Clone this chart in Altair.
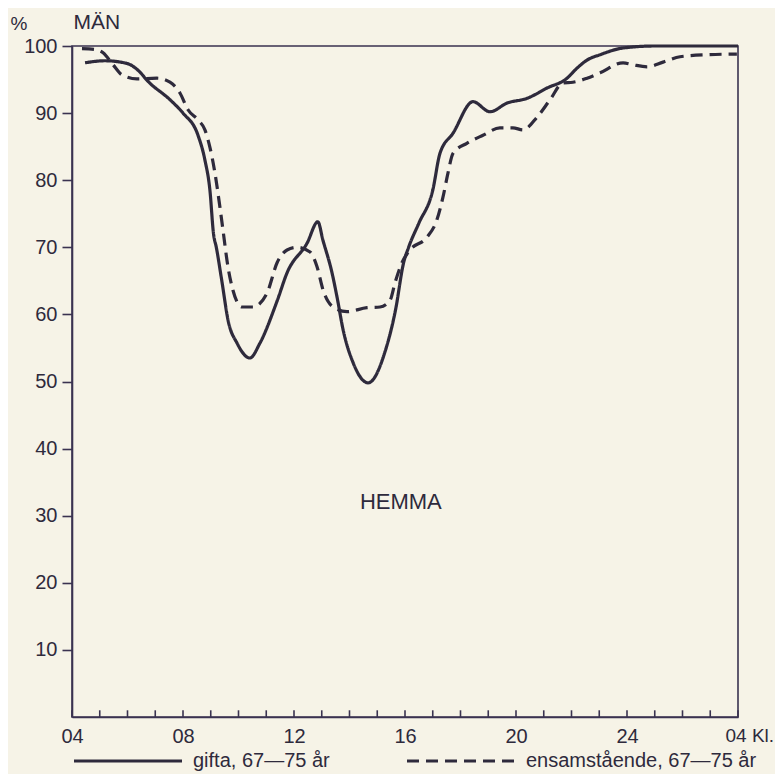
import altair as alt
import pandas as pd

# gifta, 67-75 år (solid)
gifta_h = [4.47, 5.19, 5.98, 6.45, 6.7, 7.53, 8.0, 8.54, 8.79, 8.97, 9.1, 9.2, 9.41, 9.62, 9.95, 10.41,
           10.77, 11.4, 11.75, 12.47, 12.86, 13.04, 13.37, 13.55, 13.77, 14.13, 14.67, 15.3, 15.66, 15.95,
           16.13, 16.5, 17.0, 17.26, 17.73, 18.45, 19.06, 19.68, 20.4, 21.1, 21.84, 22.2, 22.56, 23.03,
           23.86, 25.0, 28.0]
gifta_v = [97.5, 97.8, 97.4, 96.1, 94.9, 92.0, 90.0, 86.7, 83.0, 78.5, 72.0, 70.0, 64.7, 59.2, 55.7, 53.5,
           55.7, 62.1, 66.2, 70.6, 73.8, 71.1, 66.2, 62.6, 57.7, 52.8, 49.8, 54.7, 60.7, 67.7,
           70.0, 73.6, 78.5, 84.0, 87.0, 91.7, 90.2, 91.5, 92.2, 93.7, 95.2, 96.7, 97.9, 98.7,
           99.7, 100.0, 100.0]

# ensamstående, 67-75 år (dashed)
ensam_h = [4.36, 4.8, 5.12, 5.48, 5.8, 6.34, 7.06, 7.53, 7.89, 8.18, 8.54, 8.79, 8.97, 9.15, 9.33, 9.44,
           9.62, 9.8, 10.13, 10.52, 11.03, 11.39, 11.75, 12.11, 12.58, 12.83, 13.05, 13.41, 13.91, 14.63,
           15.1, 15.46, 15.64, 15.89, 16.18, 16.79, 17.15, 17.37, 17.55, 17.73, 18.23, 18.81, 19.42,
           19.89, 20.25, 20.76, 21.23, 21.69, 22.05, 22.56, 23.03, 23.86, 24.22, 24.72, 25.3, 25.91,
           26.88, 27.96]
ensam_v = [99.6, 99.5, 99.0, 97.2, 95.7, 95.1, 95.2, 94.6, 93.0, 90.5, 89.0, 87.5, 84.9, 81.1, 76.0, 72.6,
           67.1, 63.6, 61.1, 61.1, 63.2, 67.7, 69.6, 70.0, 69.3, 67.1, 63.6, 61.1, 60.4, 61.0,
           61.1, 62.1, 64.7, 67.7, 69.6, 71.5, 74.1, 77.5, 81.1, 84.0, 85.5, 86.7, 87.8,
           87.8, 87.5, 89.4, 92.0, 94.5, 94.6, 95.2, 96.0, 97.5, 97.2, 96.9, 97.6, 98.4,
           98.7, 98.8]

series = ["gifta, 67—75 år", "ensamstående, 67—75 år"]
hour_ticks = list(range(4, 29))
label_hours = [4, 8, 12, 16, 20, 24, 28]
y_ticks = [10, 20, 30, 40, 50, 60, 70, 80, 90, 100]

center_text = ["HEMMA"]
center_h = [15.85]
center_v = [32.0]
header_text = ["MÄN"]
header_h = [4.05]
header_v = [103.5]

ink = "#2e2a3c"
axis_col = "#3a3250"
bg = "#f6f3e7"
font = "Liberation Sans"
fs_axis = 20
fs_text = 21

df = pd.concat([
    pd.DataFrame({"h": gifta_h, "v": gifta_v, "serie": series[0]}),
    pd.DataFrame({"h": ensam_h, "v": ensam_v, "serie": series[1]}),
])
ticks_df = pd.DataFrame({"h": hour_ticks, "y0": [0] * len(hour_ticks), "y1": [1.0] * len(hour_ticks)})
center_df = pd.DataFrame({"h": center_h, "v": center_v, "t": center_text})
header_df = pd.DataFrame({"h": header_h, "v": header_v, "t": header_text})

xscale = alt.Scale(domain=[4, 28], nice=False, zero=False)
yscale = alt.Scale(domain=[0, 100], nice=False)

xaxis = alt.Axis(
    values=label_hours,
    labelExpr="datum.value == 28 ? '04 Kl.' : (datum.value < 10 ? '0' + datum.value : '' + datum.value)",
    labelAlign={"expr": "datum.value == 28 ? 'left' : 'center'"},
    labelOffset={"expr": "datum.value == 28 ? -13 : 0"},
    labelFontSize={"expr": "datum.value == 28 ? 19 : 20"},
    ticks=False, grid=False, domain=True, domainColor=axis_col, domainWidth=1.6,
    labelColor=ink, labelFont=font, labelPadding=9, title=None,
)
yaxis = alt.Axis(
    values=y_ticks, tickSize=10, tickColor=axis_col, tickWidth=1.6,
    grid=False, domain=True, domainColor=axis_col, domainWidth=1.6,
    labelFontSize=fs_axis, labelColor=ink, labelFont=font, labelPadding=5,
    title="%", titleAngle=0, titleAlign="left", titleBaseline="middle",
    titleX=-62, titleY=-23, titleFontSize=19, titleFontWeight="normal", titleColor=ink, titleFont=font,
)

lines = alt.Chart(df).mark_line(strokeWidth=3.2, interpolate="monotone", color=ink).encode(
    x=alt.X("h:Q", scale=xscale, axis=xaxis),
    y=alt.Y("v:Q", scale=yscale, axis=yaxis),
    strokeDash=alt.StrokeDash(
        "serie:N",
        scale=alt.Scale(domain=series, range=[[1, 0], [12, 7]]),
        legend=alt.Legend(
            orient="none", legendX=0, legendY=659, direction="horizontal", title=None,
            symbolType="stroke", symbolSize=11664, symbolStrokeWidth=3.2, symbolStrokeColor=ink,
            labelFontSize=20, labelColor=ink, labelFont=font, labelOffset=9,
            columnPadding=70, padding=0, labelLimit=400,
        ),
    ),
    detail="serie:N",
)

tick_rules = alt.Chart(ticks_df).mark_rule(color=axis_col, strokeWidth=1.6).encode(
    x=alt.X("h:Q", scale=xscale), y=alt.Y("y0:Q", scale=yscale), y2="y1:Q"
)

center_label = alt.Chart(center_df).mark_text(fontSize=22, font=font, color=ink).encode(
    x=alt.X("h:Q", scale=xscale), y=alt.Y("v:Q", scale=yscale), text="t:N"
)
header_label = alt.Chart(header_df).mark_text(
    fontSize=fs_text, font=font, color=ink, align="left", baseline="middle", clip=False
).encode(
    x=alt.X("h:Q", scale=xscale), y=alt.Y("v:Q", scale=yscale), text="t:N"
)

chart = alt.layer(lines, tick_rules, center_label, header_label).properties(
    width=666, height=671,
    autosize=alt.AutoSizeParams(type="none"),
    padding={"left": 64, "top": 38, "right": 37, "bottom": 57},
    background=bg,
).configure_view(stroke=axis_col, strokeWidth=1.6)

chart.save("out.html", embed_options={"renderer": "svg", "actions": False})
